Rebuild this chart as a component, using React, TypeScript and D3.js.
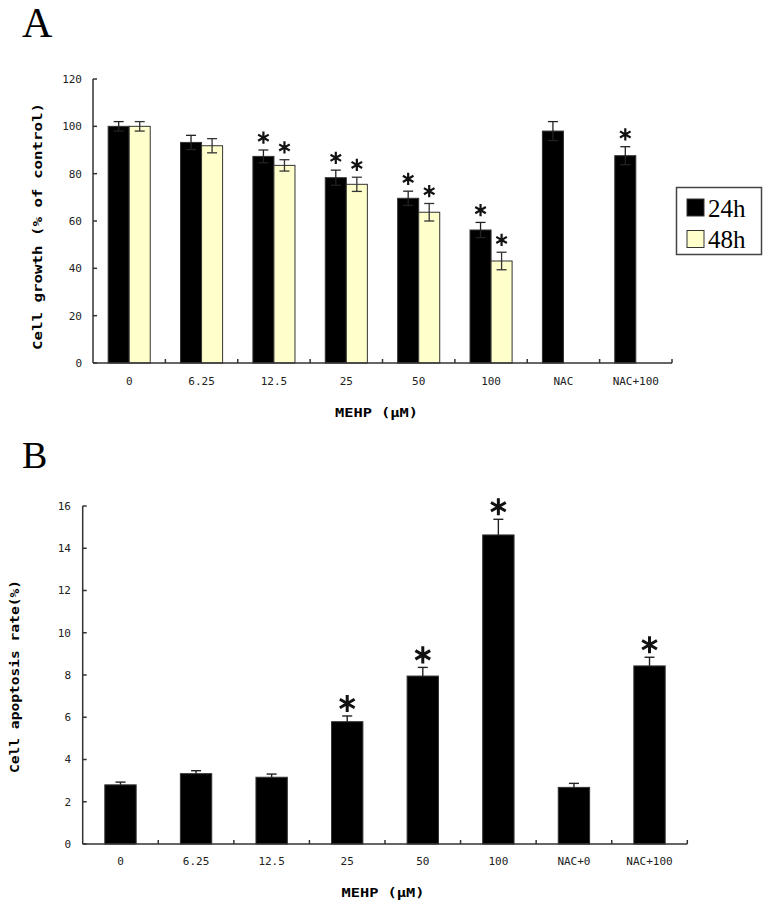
import React from "react";
import * as d3 from "d3";

// Panel A: cell growth (% of control)
const categoriesA = ["0", "6.25", "12.5", "25", "50", "100", "NAC", "NAC+100"];
const seriesA = ["24h", "48h"];
const growth24 = [100, 93.2, 87.3, 78.3, 69.6, 56.2, 98, 87.6];
const err24 = [2, 3, 2.7, 3.2, 3, 3.2, 4, 3.8];
const growth48: (number | null)[] = [100, 91.8, 83.5, 75.5, 63.7, 43.1, null, null];
const err48: (number | null)[] = [2, 3, 2.4, 3, 3.7, 3.7, null, null];
const sig24 = [false, false, true, true, true, true, false, true];
const sig48 = [false, false, true, true, true, true, false, false];
const ticksA = [0, 20, 40, 60, 80, 100, 120];

// Panel B: cell apoptosis rate (%)
const categoriesB = ["0", "6.25", "12.5", "25", "50", "100", "NAC+0", "NAC+100"];
const apoptosis = [2.8, 3.33, 3.16, 5.79, 7.95, 14.63, 2.68, 8.43];
const apoErr = [0.13, 0.14, 0.15, 0.27, 0.41, 0.74, 0.19, 0.41];
const sigB = [false, false, false, true, true, true, false, true];
const ticksB = [0, 2, 4, 6, 8, 10, 12, 14, 16];

const monoFont = "'DejaVu Sans Mono', monospace";
const serifFont = "'Liberation Serif', 'DejaVu Serif', serif";
const axisColor = "#333";
const yellow = "#ffffcc";

const asteriskType = (d3 as any).symbolAsterisk || d3.symbolCross;

const Star: React.FC<{ x: number; y: number; size: number; sw: number }> = ({ x, y, size, sw }) => (
  <path
    d={d3.symbol().type(asteriskType).size(size)() || ""}
    transform={`translate(${x},${y})`}
    fill="none"
    stroke="#111"
    strokeWidth={sw}
  />
);

const PanelA: React.FC = () => {
  const x = d3.scaleBand().domain(categoriesA).range([93, 672]).padding(0);
  const sub = d3.scaleBand().domain(seriesA).range([0, x.bandwidth()]).paddingInner(0).paddingOuter(0.72);
  const y = d3.scaleLinear().domain([0, 120]).range([363, 79]);
  const capW = 10;

  const bars = categoriesA.flatMap((c, i) => {
    const out: { key: string; x: number; v: number; e: number; sig: boolean; fill: string }[] = [];
    out.push({ key: c + "24", x: x(c)! + sub("24h")!, v: growth24[i], e: err24[i], sig: sig24[i], fill: "#000" });
    const v48 = growth48[i];
    if (v48 != null) {
      out.push({ key: c + "48", x: x(c)! + sub("48h")!, v: v48, e: err48[i] || 0, sig: sig48[i], fill: yellow });
    }
    return out;
  });

  return (
    <g>
      <text x={22} y={37} fontFamily={serifFont} fontSize={42}>A</text>

      {/* bars */}
      {bars.map((b) => {
        const cx = b.x + sub.bandwidth() / 2;
        return (
          <g key={b.key}>
            <rect
              x={b.x}
              y={y(b.v)}
              width={sub.bandwidth()}
              height={y(0) - y(b.v)}
              fill={b.fill}
              stroke="#333"
              strokeWidth={1}
            />
            <g stroke={b.fill === "#000" ? "#222" : "#333"} strokeWidth={1.3}>
              <line x1={cx} x2={cx} y1={y(b.v + b.e)} y2={y(b.v - b.e)} />
              <line x1={cx - capW / 2} x2={cx + capW / 2} y1={y(b.v + b.e)} y2={y(b.v + b.e)} />
              <line x1={cx - capW / 2} x2={cx + capW / 2} y1={y(b.v - b.e)} y2={y(b.v - b.e)} />
            </g>
            {b.sig && <Star x={cx} y={y(b.v + b.e) - 12.3} size={105} sw={2.2} />}
          </g>
        );
      })}

      {/* y axis */}
      <line x1={93} x2={93} y1={y(120)} y2={y(0)} stroke={axisColor} strokeWidth={1.5} />
      {ticksA.map((t) => (
        <g key={t}>
          <line x1={93} x2={97} y1={y(t)} y2={y(t)} stroke={axisColor} strokeWidth={1.5} />
          <text x={82} y={y(t)} dy="0.35em" textAnchor="end" fontFamily={monoFont} fontSize={11} fill="#222">
            {t}
          </text>
        </g>
      ))}

      {/* x axis */}
      <line x1={93} x2={672} y1={y(0)} y2={y(0)} stroke={axisColor} strokeWidth={1.5} />
      {categoriesA.map((c) => (
        <g key={c}>
          <line x1={x(c)! + x.bandwidth()} x2={x(c)! + x.bandwidth()} y1={y(0)} y2={y(0) - 4} stroke={axisColor} strokeWidth={1.5} />
          <text x={x(c)! + x.bandwidth() / 2} y={385} textAnchor="middle" fontFamily={monoFont} fontSize={11} fill="#222">
            {c}
          </text>
        </g>
      ))}

      <text x={376.5} y={417} textAnchor="middle" fontFamily={monoFont} fontSize={12} fontWeight="bold" textLength={83} lengthAdjust="spacingAndGlyphs">
        MEHP (μM)
      </text>
      <text
        transform="translate(42,226.5) rotate(-90)"
        textAnchor="middle"
        fontFamily={monoFont}
        fontSize={13}
        fontWeight="bold"
        textLength={247}
        lengthAdjust="spacingAndGlyphs"
      >
        Cell growth (% of control)
      </text>

      {/* legend */}
      <rect x={676.5} y={187.5} width={85} height={67} fill="#fff" stroke="#444" strokeWidth={1.5} />
      <rect x={687} y={199} width={17} height={17} fill="#000" stroke="#333" />
      <text x={708} y={216.5} fontFamily={serifFont} fontSize={25}>24h</text>
      <rect x={687} y={230.5} width={17} height={17} fill={yellow} stroke="#333" />
      <text x={708} y={247.5} fontFamily={serifFont} fontSize={25}>48h</text>
    </g>
  );
};

const PanelB: React.FC = () => {
  const x = d3.scaleBand().domain(categoriesB).range([82.7, 687.3]).padding(0);
  const y = d3.scaleLinear().domain([0, 16]).range([844, 506]);
  const barW = x.bandwidth() * 0.415;
  const capW = 10;

  return (
    <g>
      <text x={22} y={468} fontFamily={serifFont} fontSize={38}>B</text>

      {categoriesB.map((c, i) => {
        const cx = x(c)! + x.bandwidth() / 2;
        const v = apoptosis[i];
        const top = y(v + apoErr[i]);
        return (
          <g key={c}>
            <rect x={cx - barW / 2} y={y(v)} width={barW} height={y(0) - y(v)} fill="#000" stroke="#333" strokeWidth={1} />
            <g stroke="#222" strokeWidth={1.4}>
              <line x1={cx} x2={cx} y1={top} y2={y(v)} />
              <line x1={cx - capW / 2} x2={cx + capW / 2} y1={top} y2={top} />
            </g>
            {sigB[i] && <Star x={cx} y={top - 12.5} size={205} sw={3} />}
          </g>
        );
      })}

      {/* y axis */}
      <line x1={82.7} x2={82.7} y1={y(16)} y2={y(0)} stroke={axisColor} strokeWidth={1.5} />
      {ticksB.map((t) => (
        <g key={t}>
          <line x1={82.7} x2={86.7} y1={y(t)} y2={y(t)} stroke={axisColor} strokeWidth={1.5} />
          <text x={71} y={y(t)} dy="0.35em" textAnchor="end" fontFamily={monoFont} fontSize={11} fill="#222">
            {t}
          </text>
        </g>
      ))}

      {/* x axis */}
      <line x1={82.7} x2={687.3} y1={y(0)} y2={y(0)} stroke={axisColor} strokeWidth={1.5} />
      {categoriesB.map((c) => (
        <g key={c}>
          <line x1={x(c)! + x.bandwidth()} x2={x(c)! + x.bandwidth()} y1={y(0)} y2={y(0) - 4} stroke={axisColor} strokeWidth={1.5} />
          <text x={x(c)! + x.bandwidth() / 2} y={865} textAnchor="middle" fontFamily={monoFont} fontSize={11} fill="#222">
            {c}
          </text>
        </g>
      ))}

      <text x={383} y={897} textAnchor="middle" fontFamily={monoFont} fontSize={12} fontWeight="bold" textLength={83} lengthAdjust="spacingAndGlyphs">
        MEHP (μM)
      </text>
      <text
        transform="translate(19,676.5) rotate(-90)"
        textAnchor="middle"
        fontFamily={monoFont}
        fontSize={12}
        fontWeight="bold"
        textLength={193}
        lengthAdjust="spacingAndGlyphs"
      >
        Cell apoptosis rate(%)
      </text>
    </g>
  );
};

export default function App() {
  return (
    <svg
      width={768}
      height={907}
      viewBox="0 0 768 907"
      style={{ position: "absolute", left: 0, top: 0, background: "#fff" }}
    >
      <rect width={768} height={907} fill="#fff" />
      <PanelA />
      <PanelB />
    </svg>
  );
}
